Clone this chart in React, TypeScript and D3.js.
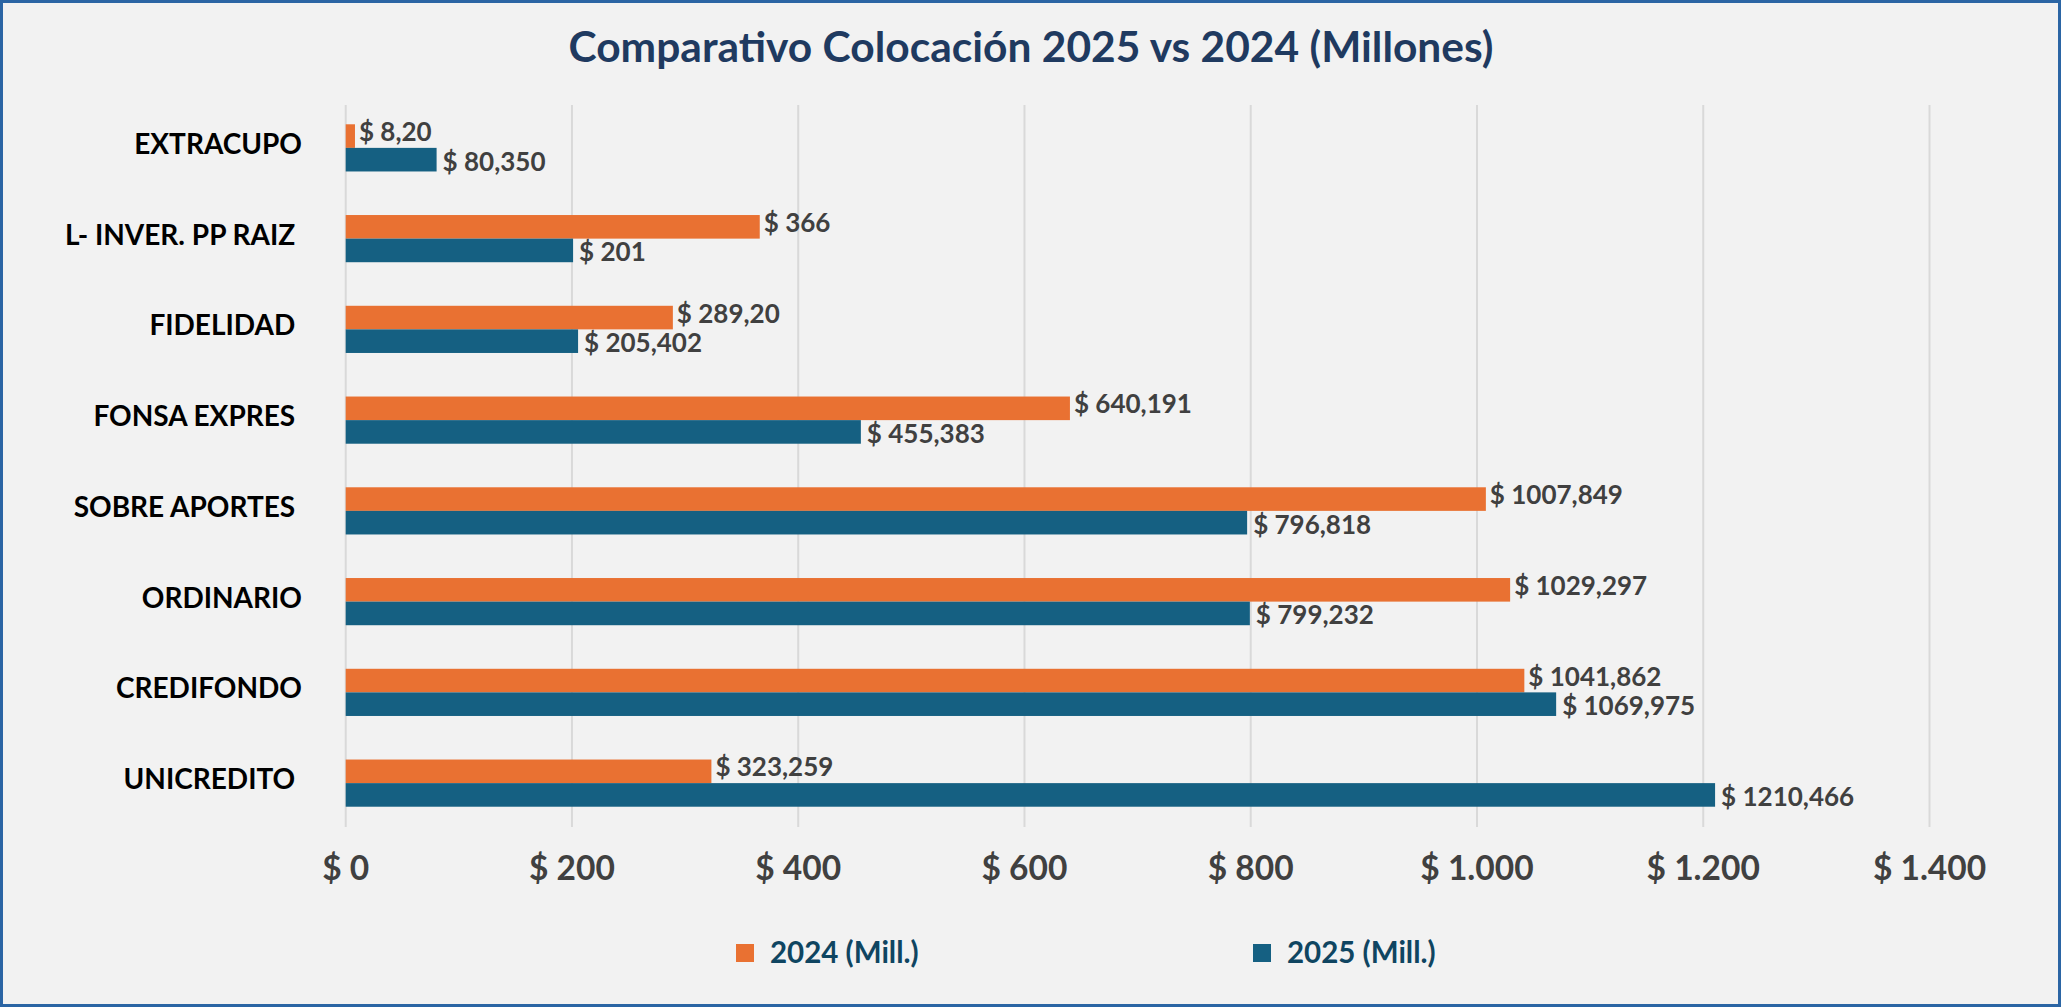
import { useEffect } from "react";
import { scaleBand, scaleLinear } from "d3";

const categories = [
    "EXTRACUPO",
    "L- INVER. PP RAIZ ",
    "FIDELIDAD ",
    "FONSA EXPRES ",
    "SOBRE APORTES ",
    "ORDINARIO",
    "CREDIFONDO",
    "UNICREDITO ",
];
const values2024 = [8.2, 366, 289.2, 640.191, 1007.849, 1029.297, 1041.862, 323.259];
const values2025 = [80.35, 201, 205.402, 455.383, 796.818, 799.232, 1069.975, 1210.466];
const labels2024 = ["$ 8,20", "$ 366", "$ 289,20", "$ 640,191", "$ 1007,849", "$ 1029,297", "$ 1041,862", "$ 323,259"];
const labels2025 = ["$ 80,350", "$ 201", "$ 205,402", "$ 455,383", "$ 796,818", "$ 799,232", "$ 1069,975", "$ 1210,466"];
const xTicks = [0, 200, 400, 600, 800, 1000, 1200, 1400];
const xTickLabels = ["$ 0", "$ 200", "$ 400", "$ 600", "$ 800", "$ 1.000", "$ 1.200", "$ 1.400"];
const seriesNames = ["2024 (Mill.)", "2025 (Mill.)"];

const W = 2061;
const H = 1007;
const ORANGE = "#E97132";
const BLUE = "#156082";
const FONT = "Lato, 'Open Sans', sans-serif";

export default function App() {
    useEffect(() => {
        document.body.style.margin = "0";
    }, []);

    const x = scaleLinear().domain([0, 1400]).range([345.7, 1929.5]);
    const y = scaleBand()
        .domain(categories)
        .range([102.5, 828.5])
        .paddingInner(0.48)
        .paddingOuter(0.24);
    const half = y.bandwidth() / 2;

    return (
        <svg width={W} height={H} style={{ display: "block" }} fontFamily={FONT}>
            <rect x={1.5} y={1.5} width={W - 3} height={H - 3} fill="#F2F2F2" stroke="#2B65A4" strokeWidth={3} />

            <text x={1031} y={62} textAnchor="middle" fontSize={42.5} fontWeight={700} fill="#1F3A60">
                Comparativo Colocación 2025 vs 2024 (Millones)
            </text>

            {xTicks.map((t, i) => (
                <g key={`tick-${t}`}>
                    <line x1={x(t)} x2={x(t)} y1={105} y2={827} stroke="#D9D9D9" strokeWidth={2} />
                    <text x={x(t)} y={880} textAnchor="middle" fontSize={33.5} fontWeight={700} fill="#404040">
                        {xTickLabels[i]}
                    </text>
                </g>
            ))}

            {categories.map((c, i) => {
                const y0 = y(c) ?? 0;
                return (
                    <g key={`cat-${c}`}>
                        <text
                            x={302}
                            y={y0 + half - 5}
                            textAnchor="end"
                            dominantBaseline="central"
                            fontSize={28}
                            fontWeight={700}
                            fill="#000"
                            style={{ whiteSpace: "pre" }}
                        >
                            {c}
                        </text>
                        <rect x={x(0)} y={y0} width={x(values2024[i]) - x(0)} height={half} fill={ORANGE} />
                        <rect x={x(0)} y={y0 + half} width={x(values2025[i]) - x(0)} height={half} fill={BLUE} />
                        <text
                            x={x(values2024[i]) + 4}
                            y={y0 + half / 2 - 5}
                            dominantBaseline="central"
                            fontSize={26}
                            fontWeight={700}
                            fill="#404040"
                        >
                            {labels2024[i]}
                        </text>
                        <text
                            x={x(values2025[i]) + 6}
                            y={y0 + half * 1.5 + 1}
                            dominantBaseline="central"
                            fontSize={26}
                            fontWeight={700}
                            fill="#404040"
                        >
                            {labels2025[i]}
                        </text>
                    </g>
                );
            })}

            {seriesNames.map((name, i) => {
                const lx = i === 0 ? 736 : 1253;
                return (
                    <g key={`legend-${name}`}>
                        <rect x={lx} y={944} width={18} height={18} fill={i === 0 ? ORANGE : BLUE} />
                        <text x={lx + 34} y={963} fontSize={29.5} fontWeight={700} fill="#0F4561">
                            {name}
                        </text>
                    </g>
                );
            })}
        </svg>
    );
}
